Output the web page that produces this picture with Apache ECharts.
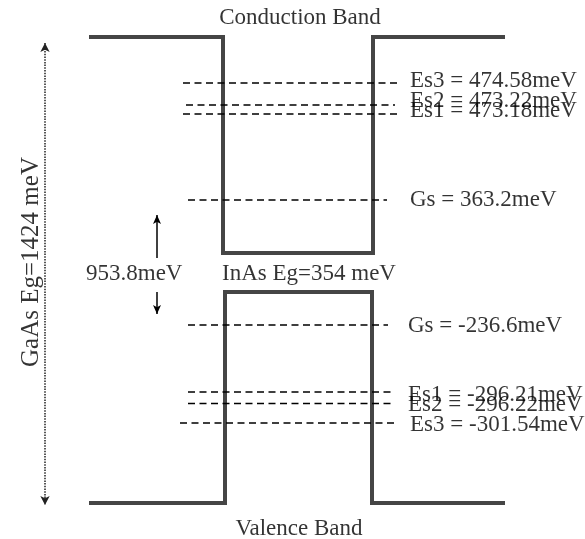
<!DOCTYPE html>
<html>
<head>
<meta charset="utf-8">
<script src="https://cdn.jsdelivr.net/npm/echarts@6/dist/echarts.min.js"></script>
<style>
html,body{margin:0;padding:0;background:#fff;}
#chart{width:585px;height:539px;}
</style>
</head>
<body>
<div id="chart"></div>
<script>
// Schematic band profile (x: position, y: schematic energy height)
const cbProfileX = [89, 223, 223, 373, 373, 505];
const cbProfileY = [502, 502, 286, 286, 502, 502];
const vbProfileX = [89, 225, 225, 372, 372, 505];
const vbProfileY = [36, 36, 247, 247, 36, 36];

// Electron levels (conduction band)
const cbLevelNames = ['Es3', 'Es2', 'Es1', 'Gs'];
const cbLevelValues = ['474.58', '473.22', '473.18', '363.2'];
const cbLevelY = [456, 434, 425, 339];
const cbLevelX0 = [183, 186, 183, 188];
const cbLevelX1 = [397, 395, 397, 387];
const cbLabelY = [458.5, 438.5, 428, 339];
const cbLabelX = [410, 410, 410, 410];

// Hole levels (valence band)
const vbLevelNames = ['Gs', 'Es1', 'Es2', 'Es3'];
const vbLevelValues = ['-236.6', '-296.21', '-296.22', '-301.54'];
const vbLevelY = [214, 147, 135.5, 116];
const vbLevelX0 = [188, 188, 188, 180];
const vbLevelX1 = [388, 395, 391, 395];
const vbLabelY = [213, 144, 134, 114];
const vbLabelX = [408, 408, 408, 410];

// Annotations
const annotTexts = ['Conduction Band', 'Valence Band', 'InAs Eg=354 meV', '953.8meV'];
const annotX = [300, 299, 222, 86];
const annotY = [521, 10.5, 265, 265.5];
const annotAlign = ['center', 'center', 'left', 'left'];
const gaasText = 'GaAs Eg=1424 meV';
const gaasPos = [31, 277];
const gaasArrow = [[45, 496], [45, 34]];
const gapArrowUp = [[157, 281], [157, 324]];
const gapArrowDown = [[157, 247], [157, 225]];

const FONT = 'Liberation Serif, Times New Roman, serif';
const FS = 23;
const TXT = '#000';

const series = [];
function profile(xs, ys) {
  return {
    type: 'line', data: xs.map((x, i) => [x, ys[i]]), symbol: 'none', silent: true,
    lineStyle: { color: '#454545', width: 4, join: 'miter', cap: 'butt' }, z: 3
  };
}
series.push(profile(cbProfileX, cbProfileY));
series.push(profile(vbProfileX, vbProfileY));

function levels(y, x0, x1) {
  y.forEach((v, i) => {
    series.push({
      type: 'line', data: [[x0[i], v], [x1[i], v]], symbol: 'none', silent: true,
      lineStyle: { color: '#000', width: 1.4, type: [7, 4.5] }, z: 4
    });
  });
}
levels(cbLevelY, cbLevelX0, cbLevelX1);
levels(vbLevelY, vbLevelX0, vbLevelX1);

function levelLabels(names, vals, xs, ys) {
  series.push({
    type: 'scatter', symbolSize: 0, silent: true,
    data: names.map((n, i) => ({ value: [xs[i], ys[i]], name: n + ' = ' + vals[i] + 'meV' })),
    label: {
      show: true, position: 'right', distance: 0, formatter: p => p.name,
      fontFamily: FONT, fontSize: FS, color: TXT, verticalAlign: 'middle'
    }
  });
}
levelLabels(cbLevelNames, cbLevelValues, cbLabelX, cbLabelY);
levelLabels(vbLevelNames, vbLevelValues, vbLabelX, vbLabelY);

series.push({
  type: 'scatter', symbolSize: 0, silent: true,
  data: annotTexts.map((t, i) => ({
    value: [annotX[i], annotY[i]], name: t,
    label: { position: annotAlign[i] === 'left' ? 'right' : 'inside', distance: 0 }
  })),
  label: {
    show: true, formatter: p => p.name, fontFamily: FONT, fontSize: FS, color: TXT,
    verticalAlign: 'middle'
  }
});
series.push({
  type: 'scatter', symbolSize: 0, silent: true,
  data: [{ value: gaasPos, name: gaasText }],
  label: {
    show: true, position: 'inside', rotate: 90, formatter: p => p.name,
    fontFamily: FONT, fontSize: FS + 2, color: TXT
  }
});

// Arrows
series.push({
  type: 'line', data: [], silent: true,
  markLine: {
    silent: true, animation: false, label: { show: false },
    data: [
      [{ coord: gaasArrow[0] }, { coord: gaasArrow[1] }]
    ],
    symbol: ['arrow', 'arrow'], symbolSize: [7, 9],
    lineStyle: { color: '#222', width: 1.5, type: [1.5, 1.2] }
  }
});
series.push({
  type: 'line', data: [], silent: true,
  markLine: {
    silent: true, animation: false, label: { show: false },
    data: [
      [{ coord: gapArrowUp[0] }, { coord: gapArrowUp[1] }],
      [{ coord: gapArrowDown[0] }, { coord: gapArrowDown[1] }]
    ],
    symbol: ['none', 'arrow'], symbolSize: [6, 9],
    lineStyle: { color: '#000', width: 1.5, type: 'solid' }
  }
});

const chart = echarts.init(document.getElementById('chart'), null, { renderer: 'canvas' });
chart.setOption({
  animation: false,
  backgroundColor: '#fff',
  grid: { left: 0, right: 0, top: 0, bottom: 0 },
  xAxis: { type: 'value', min: 0, max: 585, show: false },
  yAxis: { type: 'value', min: 0, max: 539, show: false },
  series: series
});
</script>
</body>
</html>
